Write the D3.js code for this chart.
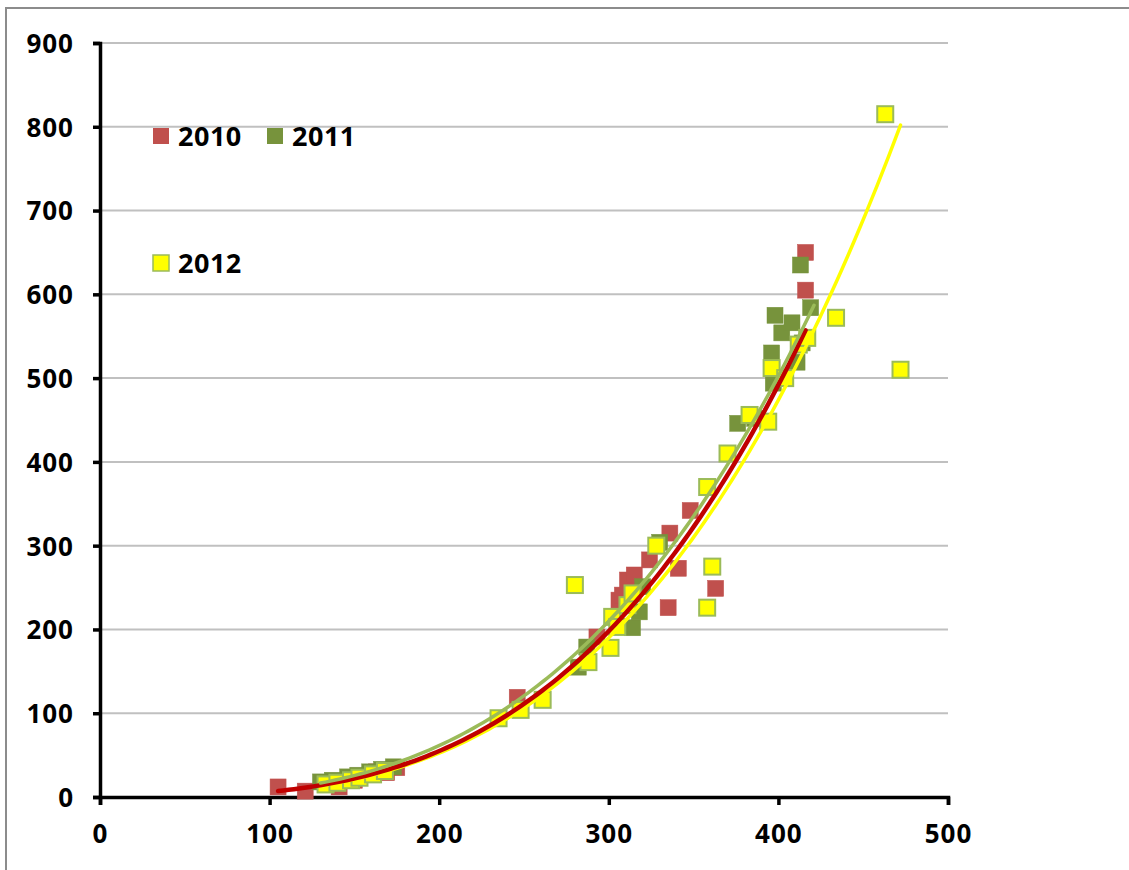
<!DOCTYPE html>
<html>
<head>
<meta charset="utf-8">
<script src="https://cdn.jsdelivr.net/npm/d3@7"></script>
<style>
  html, body { margin: 0; padding: 0; background: #fff; }
  svg { display: block; }
  text { font-family: "Open Sans", "Liberation Sans", sans-serif; font-weight: bold; fill: #000; }
</style>
</head>
<body>
<svg id="chart" width="1129" height="870"></svg>
<script>
// ---- data ----
const seriesNames = ["2010", "2011", "2012"];
const xTicks = [0, 100, 200, 300, 400, 500];
const yTicks = [0, 100, 200, 300, 400, 500, 600, 700, 800, 900];

const data2010 = [
  [105, 12], [121, 7], [141, 12], [150, 20], [163, 30], [169, 29], [175, 35],
  [246, 119], [293, 191], [306, 235], [308, 241], [311, 259], [315, 265],
  [324, 283], [336, 315], [341, 273], [348, 342], [335, 226], [363, 249],
  [416, 650], [416, 605]
];
const data2011 = [
  [130, 18], [137, 20], [146, 24], [152, 26], [159, 30], [166, 33], [173, 36],
  [282, 155], [287, 179], [314, 202], [318, 221], [320, 251], [330, 304],
  [376, 446], [397, 494], [396, 530], [402, 554], [408, 566], [398, 575],
  [411, 519], [414, 542], [419, 584], [413, 635], [386, 452]
];
const data2012 = [
  [133, 15], [140, 17], [148, 20], [153, 23], [161, 27], [168, 31],
  [235, 94], [248, 104], [261, 116], [280, 253], [288, 161], [301, 178],
  [302, 215], [305, 203], [311, 229], [314, 243], [328, 300], [358, 370],
  [358, 226], [361, 275], [370, 410], [383, 456], [394, 448], [396, 512],
  [404, 500], [412, 540], [417, 548], [434, 572], [463, 815], [472, 510]
];

// power trendlines: [x start, x end, value at x=300, value at x end]
const trend2010 = [105, 416, 198, 557];
const trend2011 = [130, 421, 210, 587];
const trend2012 = [130, 472, 190, 802];

const colors = { "2010": "#c0504d", "2011": "#77933c", "2012": "#ffff00" };
const strokes = { "2010": "#c0504d", "2011": "#77933c", "2012": "#9bbb59" };
const trendColors = { "2010": "#c00000", "2011": "#9bbb59", "2012": "#ffff00" };
const trendWidths = { "2010": 4.5, "2011": 3.5, "2012": 3.5 };

const seriesData = { "2010": data2010, "2011": data2011, "2012": data2012 };
const trendData = { "2010": trend2010, "2011": trend2011, "2012": trend2012 };

// ---- layout ----
const svg = d3.select("#chart");
const x = d3.scaleLinear().domain([0, 500]).range([100, 948]);
const y = d3.scaleLinear().domain([0, 900]).range([797, 43]);

// outer frame
svg.append("path").attr("d", "M6,870 V8 H1129").attr("fill", "none")
  .attr("stroke", "#8c8c8c").attr("stroke-width", 2);

// gridlines
svg.append("g").selectAll("line").data(yTicks.filter(d => d > 0)).join("line")
  .attr("x1", x(0)).attr("x2", x(500))
  .attr("y1", d => y(d)).attr("y2", d => y(d))
  .attr("stroke", "#c0c0c0").attr("stroke-width", 2);

// axes
const yAxis = d3.axisLeft(y).tickValues(yTicks).tickSize(7).tickPadding(19).tickFormat(d3.format("d"));
const xAxis = d3.axisBottom(x).tickValues(xTicks).tickSize(8).tickPadding(20).tickFormat(d3.format("d"));

const gy = svg.append("g").attr("transform", `translate(${x(0)},0)`).call(yAxis);
const gx = svg.append("g").attr("transform", `translate(0,${y(0)})`).call(xAxis);
[gy, gx].forEach(g => {
  g.select(".domain").attr("stroke", "#000").attr("stroke-width", 3.5);
  g.selectAll(".tick line").attr("stroke", "#000").attr("stroke-width", 3.5);
  g.selectAll(".tick text").attr("font-size", 26).attr("font-weight", "bold")
    .attr("letter-spacing", 1)
    .attr("font-family", "'Open Sans', 'Liberation Sans', sans-serif").attr("fill", "#000");
});
gy.selectAll(".tick text").attr("dy", "0.36em");

// markers
const size = 16;
seriesNames.forEach(name => {
  svg.append("g").selectAll("rect").data(seriesData[name]).join("rect")
    .attr("x", d => x(d[0]) - size / 2)
    .attr("y", d => y(d[1]) - size / 2)
    .attr("width", size).attr("height", size)
    .attr("fill", colors[name])
    .attr("stroke", strokes[name])
    .attr("stroke-width", name === "2012" ? 2 : 0.5);
});

// power trendlines y = a * x^b through the read values
const line = d3.line().x(d => x(d[0])).y(d => y(d[1])).curve(d3.curveLinear);
["2012", "2010", "2011"].forEach(name => {
  const [lo, hi, yMid, yEnd] = trendData[name];
  const b = Math.log(yEnd / yMid) / Math.log(hi / 300);
  const a = yMid / Math.pow(300, b);
  const samples = d3.range(0, 101).map(i => { const v = lo + (hi - lo) * i / 100; return [v, a * Math.pow(v, b)]; });
  svg.append("path").datum(samples).attr("d", line).attr("fill", "none")
    .attr("stroke", trendColors[name]).attr("stroke-width", trendWidths[name])
    .attr("stroke-linecap", "round");
});

// legend
const legend = [
  { name: "2010", lx: 161, ly: 136 },
  { name: "2011", lx: 275, ly: 136 },
  { name: "2012", lx: 161, ly: 263 }
];
const lg = svg.append("g");
legend.forEach(l => {
  lg.append("rect").attr("x", l.lx - 8).attr("y", l.ly - 8).attr("width", 16).attr("height", 16)
    .attr("fill", colors[l.name]).attr("stroke", strokes[l.name]).attr("stroke-width", l.name === "2012" ? 1.5 : 0);
  lg.append("text").attr("x", l.lx + 17).attr("y", l.ly).attr("dy", "0.36em")
    .attr("font-size", 27).attr("letter-spacing", 0.5).text(l.name);
});
</script>
</body>
</html>
